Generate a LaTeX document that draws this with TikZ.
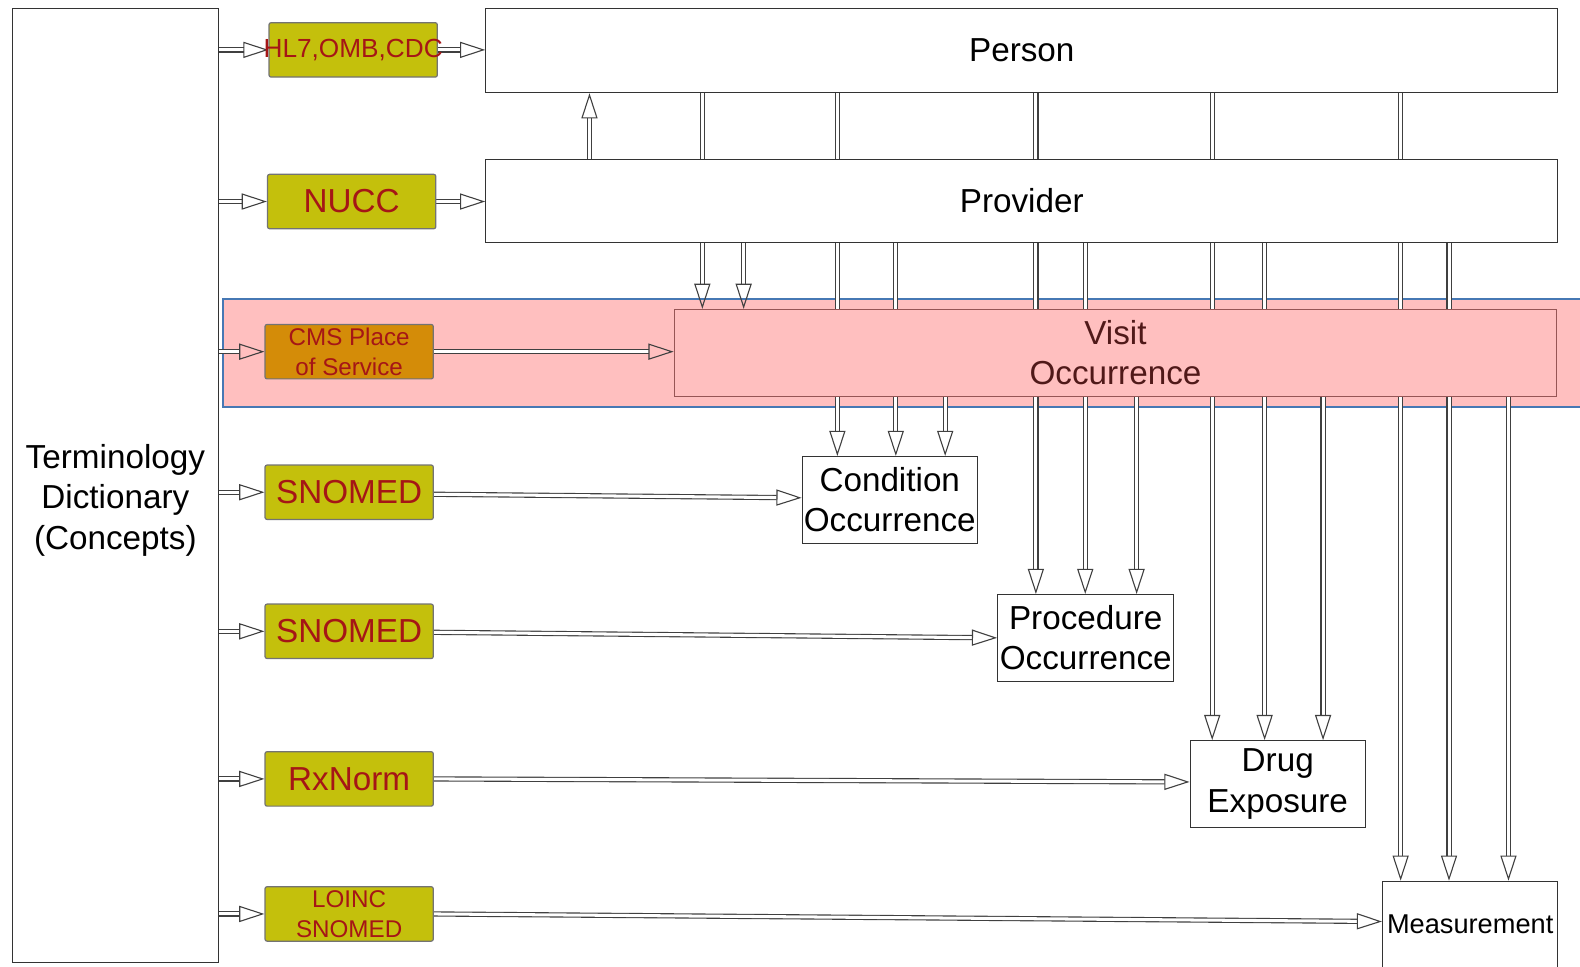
\documentclass[tikz,border=0pt]{standalone}
\usepackage{fontspec}
\setmainfont{Liberation Sans}
\usetikzlibrary{arrows.meta,backgrounds}
\definecolor{vocabfill}{RGB}{196,192,12}
\definecolor{vocabtext}{RGB}{165,22,22}
\definecolor{cmsfill}{RGB}{212,140,8}
\definecolor{bandfill}{RGB}{255,191,191}
\definecolor{bandline}{RGB}{70,120,180}
\definecolor{visitline}{RGB}{150,85,85}
\definecolor{visittext}{RGB}{80,25,25}

\tikzset{
  tablebox/.style={draw=black!80, fill=white, line width=0.5pt, inner sep=0pt,
    align=center, font=\fontsize{16.5}{20}\selectfont},
  vocab/.style={draw=black!55, fill=vocabfill, text=vocabtext, line width=0.6pt,
    rounded corners=1pt, inner sep=0pt, minimum width=83.5pt, minimum height=27pt,
    align=center, font=\fontsize{16.5}{20}\selectfont},
  small/.style={font=\fontsize{12}{15}\selectfont},
  link/.style={draw=black!75, line width=0.55pt, double=white, double distance=1.5pt,
    -{Triangle[open, length=12.5pt, width=8pt]}}
}

\begin{document}
\begin{tikzpicture}[x=0.5pt, y=-0.5pt]
  \useasboundingbox (0,0) rectangle (1568,959);

  % the tables
  \node[tablebox, minimum width=102.5pt, minimum height=473.5pt,
    label={[font=\fontsize{16.5}{20}\selectfont, align=center, yshift=-7.5pt]center:Terminology\\Dictionary\\(Concepts)}]
    (term) at (114.5,481.5) {};
  \node[tablebox, minimum width=532pt, minimum height=42pt] (person) at (1014,50) {Person};
  \node[tablebox, minimum width=532pt, minimum height=41.5pt] (provider) at (1014,199.5) {Provider};
  \node[tablebox, fill=bandfill, draw=visitline, text=visittext, minimum width=438pt,
    minimum height=43pt] (visit) at (1107,350) {Visit\\Occurrence};
  \node[tablebox, minimum width=87pt, minimum height=43pt] (cond) at (883,496) {Condition\\Occurrence};
  \node[tablebox, minimum width=87.5pt, minimum height=43pt] (proc) at (1077.5,633) {Procedure\\Occurrence};
  \node[tablebox, minimum width=87pt, minimum height=43pt] (drug) at (1268,778) {Drug\\Exposure};
  \node[tablebox, minimum width=87pt, minimum height=43pt, font=\fontsize{13.5}{16}\selectfont]
    (meas) at (1459,917.5) {Measurement};

  % the vocabularies
  \node[vocab, font=\fontsize{13}{15}\selectfont, inner xsep=-3pt] (hl7) at (350.5,49.5) {HL7,OMB,CDC};
  \node[vocab] (nucc) at (349,200) {NUCC};
  \node[vocab, small, fill=cmsfill] (cms) at (346.5,349) {CMS Place\\of Service};
  \node[vocab] (snomedA) at (346.5,488.5) {SNOMED};
  \node[vocab] (snomedB) at (346.5,626.5) {SNOMED};
  \node[vocab] (rxnorm) at (346.5,773) {RxNorm};
  \node[vocab, small] (loinc) at (346.5,907) {LOINC\\SNOMED};

  \begin{scope}[on background layer]
    \draw[draw=bandline, fill=bandfill, line width=0.8pt] (221,297) rectangle (1580,404);

    \foreach \v in {hl7,nucc,cms,snomedA,snomedB,rxnorm,loinc}
      \draw[link] (term.east |- \v.west) -- (\v.west);

    \draw[link] (hl7.east) -- (person.west |- hl7.east);
    \draw[link] (nucc.east) -- (provider.west |- nucc.east);
    \draw[link] (cms.east) -- (visit.west |- cms.east);
    \draw[link] ([yshift=-1pt]snomedA.east) -- ([yshift=1pt]cond.west);
    \draw[link] ([yshift=-0.5pt]snomedB.east) -- (proc.west);
    \draw[link] (rxnorm.east) -- ([yshift=1pt]drug.west);
    \draw[link] (loinc.east) -- ([yshift=1.5pt]meas.west);

    \draw[link] (585,0 |- provider.north) -- (585,0 |- person.south);

    % foreign keys down to the event tables
    \foreach \x/\a/\b in {697/person/visit, 738/provider/visit,
        831/person/cond, 889/provider/cond, 938/visit/cond,
        1028/person/proc, 1077/provider/proc, 1128/visit/proc,
        1203/person/drug, 1255/provider/drug, 1313/visit/drug,
        1390/person/meas, 1438/provider/meas, 1497/visit/meas}
      \draw[link] (\x,0 |- \a.south) -- (\x,0 |- \b.north);
  \end{scope}
\end{tikzpicture}
\end{document}
